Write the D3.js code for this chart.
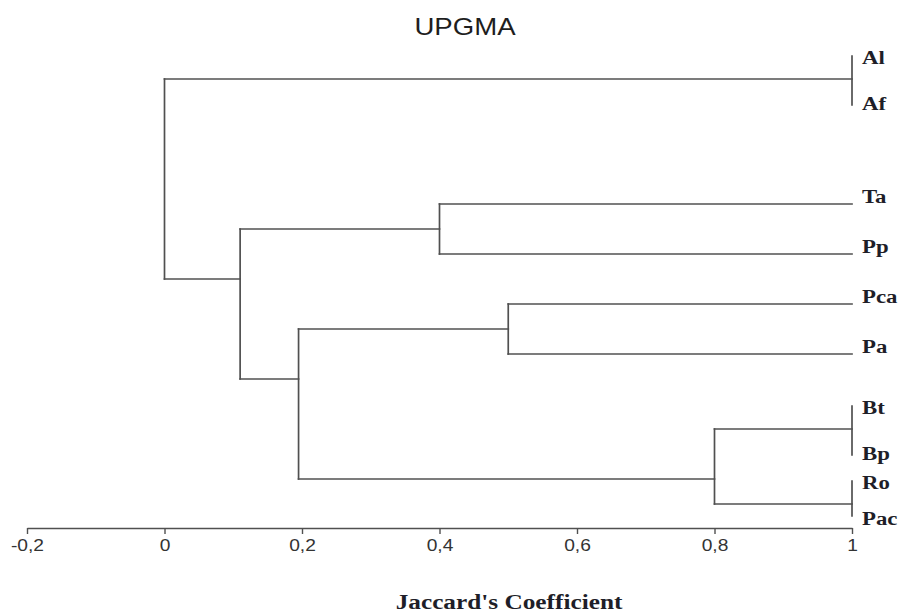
<!DOCTYPE html>
<html><head><meta charset="utf-8">
<script src="https://cdn.jsdelivr.net/npm/d3@7"></script>
<style>body{margin:0;background:#fff}</style>
</head><body><svg id="chart" width="907" height="615"></svg>
<script>
// ---- data ----
const leafNames    = ["Al","Af","Ta","Pp","Pca","Pa","Bt","Bp","Ro","Pac"];
const clusterIds   = ["AlAf","BtBp","RoPac","TaPp","PcaPa","BtRo","PcaBt","TaPca","root"];
const clusterLeft  = ["Al","Bt","Ro","Ta","Pca","BtBp","PcaPa","TaPp","AlAf"];
const clusterRight = ["Af","Bp","Pac","Pp","Pa","RoPac","BtRo","PcaBt","TaPca"];
const clusterSim   = [1.0, 1.0, 1.0, 0.40, 0.50, 0.80, 0.195, 0.11, 0.0];
const tickValues   = [-0.2, 0, 0.2, 0.4, 0.6, 0.8, 1];
const tickLabels   = ["-0,2","0","0,2","0,4","0,6","0,8","1"];
const chartTitle   = "UPGMA";
const axisTitle    = "Jaccard's Coefficient";

// ---- build tree ----
const nodes = {};
leafNames.forEach(n => nodes[n] = {name: n, sim: 1});
clusterIds.forEach((id, i) => nodes[id] = {
  name: id, sim: clusterSim[i],
  children: [nodes[clusterLeft[i]], nodes[clusterRight[i]]]
});
// identical groups (similarity 1) are terminal rows of the layout
const root = d3.hierarchy(nodes.root, d => d.sim < 1 ? d.children : null);

function lca(a, b) { const A = a.ancestors(); return b.ancestors().find(n => A.includes(n)); }
d3.cluster().nodeSize([1, 1]).separation((a, b) =>
  2 + ((a.data.children || b.data.children) ? 1 : 0) + (lca(a, b) === root ? 2 : 0)
)(root);

const svg = d3.select("#chart");
const axisY = 528;
const x = d3.scaleLinear().domain([-0.2, 1]).range([27, 852]);
const lv = root.leaves();
const yU = d3.scaleLinear().domain([lv[0].x, lv[lv.length - 1].x]).range([79, 504]);
const twoRows = yU(lv[0].x + 2) - yU(lv[0].x);

root.eachAfter(n => {
  if (!n.children) { n.jy = yU(n.x); return; }
  const ys = n.children.map(c => c.jy).sort((a, b) => a - b);
  n.top = ys[0]; n.bot = ys[ys.length - 1];
  const span = n.bot - n.top;
  n.jy = span <= twoRows ? (n.top + n.bot) / 2 : n.top + twoRows;
});

// ---- tree lines ----
const g = svg.append("g").attr("fill", "none").attr("stroke", "#505050")
  .attr("stroke-width", 1.7).attr("stroke-linecap", "square");
const internal = root.descendants().filter(n => n.children);
g.selectAll("line.v").data(internal).join("line").attr("class", "v")
  .attr("x1", d => x(d.data.sim)).attr("x2", d => x(d.data.sim))
  .attr("y1", d => d.top).attr("y2", d => d.bot);
g.selectAll("line.h").data(root.links()).join("line").attr("class", "h")
  .attr("x1", d => x(d.source.data.sim)).attr("x2", d => x(d.target.data.sim))
  .attr("y1", d => d.target.jy).attr("y2", d => d.target.jy);
const pairs = lv.filter(n => n.data.children);
g.selectAll("line.p").data(pairs).join("line").attr("class", "p")
  .attr("x1", d => x(d.data.sim)).attr("x2", d => x(d.data.sim))
  .attr("y1", d => d.jy - 23).attr("y2", d => Math.min(d.jy + 26, axisY - 12));

// ---- leaf labels ----
const labels = [];
lv.forEach(n => {
  if (n.data.children) {
    labels.push({name: n.data.children[0].name, y: n.jy - 22});
    labels.push({name: n.data.children[1].name, y: Math.min(n.jy + 24, axisY - 10)});
  } else labels.push({name: n.data.name, y: n.jy - 8});
});
svg.append("g").selectAll("text").data(labels).join("text")
  .attr("transform", d => `translate(${x(1) + 10},${d.y}) scale(1.2,1)`)
  .attr("dy", "0.35em")
  .attr("font-family", "Liberation Serif, Times New Roman, serif")
  .attr("font-weight", "bold").attr("font-size", 19).attr("fill", "#1e1e28")
  .text(d => d.name);

// ---- axis ----
const ax = svg.append("g").attr("transform", `translate(0,${axisY})`)
  .call(d3.axisBottom(x).tickValues(tickValues).tickFormat((d, i) => tickLabels[i])
    .tickSizeInner(6).tickSizeOuter(0).tickPadding(6));
ax.select(".domain").attr("stroke", "#505050").attr("stroke-width", 1.7);
ax.selectAll(".tick line").attr("stroke", "#505050").attr("stroke-width", 1.4);
ax.selectAll(".tick text").attr("font-family", "Liberation Sans, Arial, sans-serif")
  .attr("font-size", 16).attr("fill", "#333").attr("transform", "scale(1.2,1)");

// ---- titles ----
svg.append("text").attr("transform", "translate(465,35) scale(1.2,1)")
  .attr("text-anchor", "middle").attr("font-family", "Liberation Sans, Arial, sans-serif")
  .attr("font-size", 23).attr("fill", "#1e1e1e").text(chartTitle);
svg.append("text").attr("transform", "translate(509,609) scale(1.15,1)")
  .attr("text-anchor", "middle").attr("font-family", "Liberation Serif, Times New Roman, serif")
  .attr("font-weight", "bold").attr("font-size", 22).attr("fill", "#1e1e28").text(axisTitle);
</script></body></html>
